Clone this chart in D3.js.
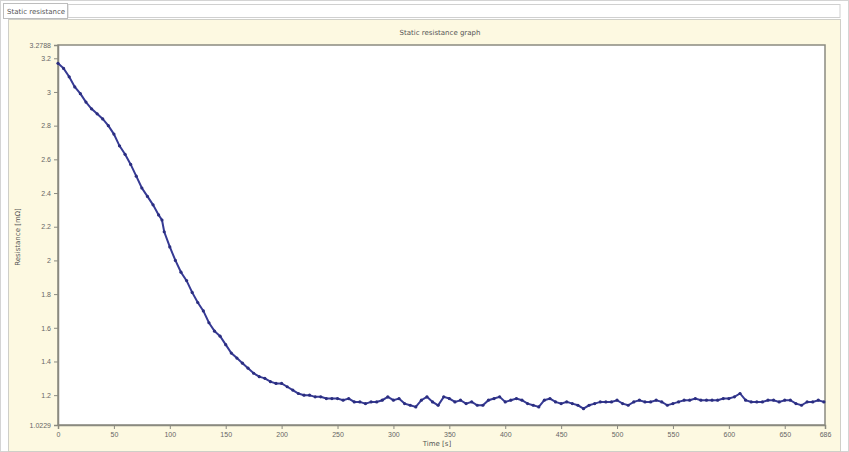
<!DOCTYPE html>
<html>
<head>
<meta charset="utf-8">
<script src="https://cdn.jsdelivr.net/npm/d3@7"></script>
<style>
  body { margin: 0; background: #fff; }
  svg { display: block; font-family: "DejaVu Sans", Arial, sans-serif; }
  .tick text { fill: #666; font-size: 7px; }
  .tick line { stroke: #8a8a80; }
  .domain { stroke: #8a8a80; }
</style>
</head>
<body>
<div id="chart"></div>
<script>
// values (time in s, resistance in mOhm)
const times = [0,5,10,15,20,25,30,35,40,45,50,55,60,65,70,75,80,85,90,93,95,100,105,110,115,120,125,130,135,140,145,150,155,160,165,170,175,180,185,190,195,200,205,210,215,220,225,230,235,240,245,250,255,260,265,270,275,280,285,290,295,300,305,310,315,320,325,330,335,340,345,350,355,360,365,370,375,380,385,390,395,400,405,410,415,420,425,430,435,440,445,450,455,460,465,470,475,480,485,490,495,500,505,510,515,520,525,530,535,540,545,550,555,560,565,570,575,580,585,590,595,600,605,610,615,620,625,630,635,640,645,650,655,660,665,670,675,680,685];
const resistance = [3.17,3.14,3.09,3.03,2.99,2.94,2.90,2.87,2.84,2.80,2.75,2.68,2.63,2.57,2.50,2.43,2.38,2.33,2.27,2.24,2.17,2.08,2.00,1.93,1.88,1.81,1.75,1.70,1.63,1.58,1.55,1.50,1.45,1.42,1.39,1.36,1.33,1.31,1.30,1.28,1.27,1.27,1.25,1.23,1.21,1.20,1.20,1.19,1.19,1.18,1.18,1.18,1.17,1.18,1.16,1.16,1.15,1.16,1.16,1.17,1.19,1.17,1.18,1.15,1.14,1.13,1.17,1.19,1.16,1.14,1.19,1.18,1.16,1.17,1.15,1.16,1.14,1.14,1.17,1.18,1.19,1.16,1.17,1.18,1.17,1.15,1.14,1.13,1.17,1.18,1.16,1.15,1.16,1.15,1.14,1.12,1.14,1.15,1.16,1.16,1.16,1.17,1.15,1.14,1.16,1.17,1.16,1.16,1.17,1.16,1.14,1.15,1.16,1.17,1.17,1.18,1.17,1.17,1.17,1.17,1.18,1.18,1.19,1.21,1.17,1.16,1.16,1.16,1.17,1.17,1.16,1.17,1.17,1.15,1.14,1.16,1.16,1.17,1.16];
const xTicks = [0,50,100,150,200,250,300,350,400,450,500,550,600,650,686];
const yTicks = [1.0229,1.2,1.4,1.6,1.8,2,2.2,2.4,2.6,2.8,3,3.2,3.2788];

const width = 849, height = 452,
      margin = ({ top: 45, right: 24, bottom: 27, left: 58 });

const data = times.map((t, i) => ({ t: t, v: resistance[i] }));

const svg = d3.select("#chart")
  .append("svg")
  .attr("width", width)
  .attr("height", height);

// window frame + tab
svg.append("rect").attr("x", 0.5).attr("y", 0.5).attr("width", width - 1).attr("height", height - 1)
  .attr("fill", "#fff").attr("stroke", "#d4d4d4");
svg.append("rect").attr("x", 68).attr("y", 4.5).attr("width", 772).attr("height", 13)
  .attr("fill", "#fff").attr("stroke", "#d0d0d0");
svg.append("rect").attr("x", 3.5).attr("y", 3.5).attr("width", 64).attr("height", 15)
  .attr("fill", "#fff").attr("stroke", "#bdbdbd");
svg.append("text").text("Static resistance")
  .attr("x", 7).attr("y", 14).attr("font-size", 7).attr("fill", "#555");

// beige panel
svg.append("rect").attr("x", 8.5).attr("y", 19.5).attr("width", 832).attr("height", 432)
  .attr("fill", "#fdf9e1").attr("stroke", "#cfcfc8");

svg.append("text").text("Static resistance graph")
  .attr("x", 440).attr("y", 35).attr("text-anchor", "middle")
  .attr("font-size", 7).attr("fill", "#555");

let x = d3.scaleLinear()
  .domain([0, 686])
  .range([margin.left, width - margin.right]);

let y = d3.scaleLinear()
  .domain([1.0229, 3.2788])
  .range([height - margin.bottom, margin.top]);

// plot area
svg.append("rect")
  .attr("x", x(0)).attr("y", y(3.2788))
  .attr("width", x(686) - x(0)).attr("height", y(1.0229) - y(3.2788))
  .attr("fill", "#fff").attr("stroke", "#8a8a80").attr("stroke-width", 1.5);

svg.append("g")
  .attr("transform", `translate(0,${height - margin.bottom})`)
  .call(d3.axisBottom(x).tickValues(xTicks).tickSize(4).tickFormat(d => d));

svg.append("g")
  .attr("transform", `translate(${margin.left},0)`)
  .call(d3.axisLeft(y).tickValues(yTicks).tickSize(4).tickFormat(d => d));

svg.selectAll(".domain").attr("stroke-width", 1.5);

svg.append("text").text("Time [s]")
  .attr("x", 437).attr("y", 446).attr("text-anchor", "middle")
  .attr("font-size", 7).attr("fill", "#555");

svg.append("text").text("Resistance [mΩ]")
  .attr("transform", "translate(20,237) rotate(-90)")
  .attr("text-anchor", "middle")
  .attr("font-size", 7).attr("fill", "#555");

let line = d3.line()
  .x(d => x(d.t))
  .y(d => y(d.v));

svg.append("path")
  .datum(data)
  .attr("fill", "none")
  .attr("stroke", "#363a94")
  .attr("stroke-width", 2)
  .attr("d", line);

svg.append("g")
  .selectAll("circle")
  .data(data)
  .join("circle")
  .attr("cx", d => x(d.t))
  .attr("cy", d => y(d.v))
  .attr("r", 1.6)
  .attr("fill", "#2b2e80");
</script>
</body>
</html>
